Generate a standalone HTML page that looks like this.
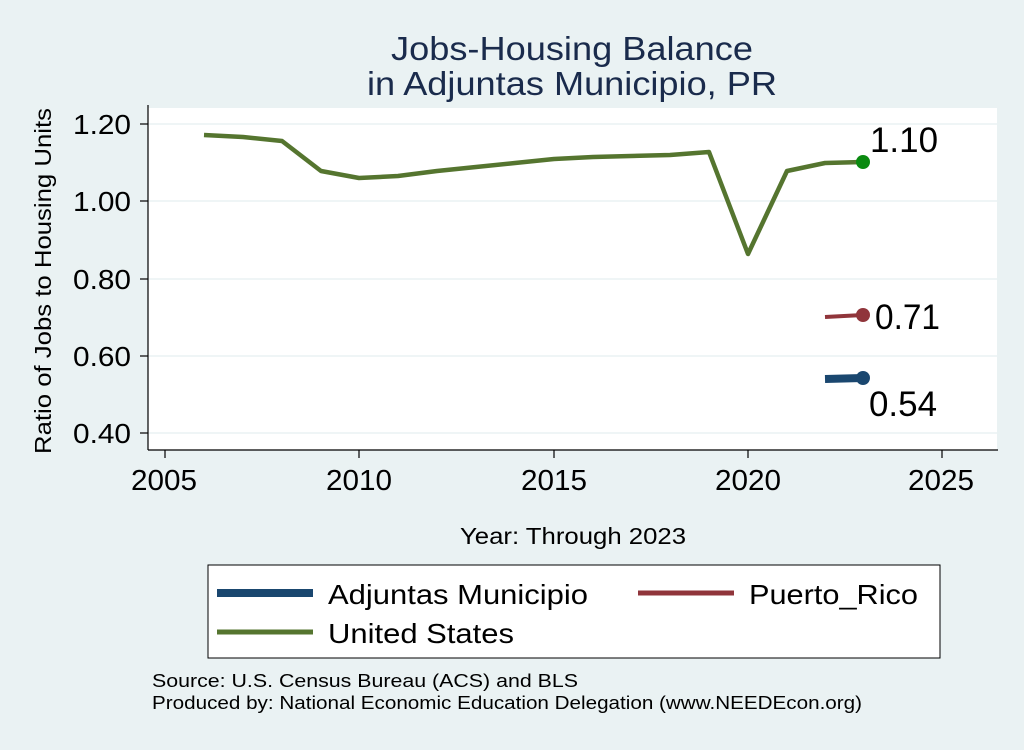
<!DOCTYPE html>
<html><head><meta charset="utf-8"><style>
html,body{margin:0;padding:0;background:#eaf2f3;}
</style></head><body>
<svg width="1024" height="745" viewBox="0 0 1024 745" xmlns="http://www.w3.org/2000/svg" font-family="Liberation Sans, Arial, sans-serif">
<rect width="1024" height="745" fill="#eaf2f3"/>
<text x="572" y="60" font-size="33" fill="#1a2b4c" text-anchor="middle" textLength="362" lengthAdjust="spacingAndGlyphs">Jobs-Housing Balance</text>
<text x="572" y="95" font-size="33" fill="#1a2b4c" text-anchor="middle" textLength="410" lengthAdjust="spacingAndGlyphs">in Adjuntas Municipio, PR</text>
<rect x="148" y="108" width="849" height="342" fill="#fff"/>
<g stroke="#eaf2f3" stroke-width="1.5">
<line x1="148" x2="997" y1="124" y2="124"/>
<line x1="148" x2="997" y1="201" y2="201"/>
<line x1="148" x2="997" y1="279" y2="279"/>
<line x1="148" x2="997" y1="356" y2="356"/>
<line x1="148" x2="997" y1="433" y2="433"/>
</g>
<g stroke="#000" stroke-width="1.2">
<line x1="148" x2="148" y1="105" y2="450"/>
<line x1="148" x2="998" y1="450" y2="450"/>
<line x1="140" x2="148" y1="124" y2="124"/><line x1="140" x2="148" y1="201" y2="201"/><line x1="140" x2="148" y1="279" y2="279"/><line x1="140" x2="148" y1="356" y2="356"/><line x1="140" x2="148" y1="433" y2="433"/>
<line x1="165" x2="165" y1="450" y2="458"/><line x1="359" x2="359" y1="450" y2="458"/><line x1="554" x2="554" y1="450" y2="458"/><line x1="748" x2="748" y1="450" y2="458"/><line x1="942" x2="942" y1="450" y2="458"/>
</g>
<g font-size="28" fill="#000" text-anchor="end">
<text x="131" y="134" textLength="58" lengthAdjust="spacingAndGlyphs">1.20</text>
<text x="131" y="211" textLength="58" lengthAdjust="spacingAndGlyphs">1.00</text>
<text x="131" y="289" textLength="58" lengthAdjust="spacingAndGlyphs">0.80</text>
<text x="131" y="366" textLength="58" lengthAdjust="spacingAndGlyphs">0.60</text>
<text x="131" y="443" textLength="58" lengthAdjust="spacingAndGlyphs">0.40</text>
</g>
<g font-size="29" fill="#000" text-anchor="middle">
<text x="164" y="490" textLength="66" lengthAdjust="spacingAndGlyphs">2005</text>
<text x="359" y="490" textLength="66" lengthAdjust="spacingAndGlyphs">2010</text>
<text x="554" y="490" textLength="66" lengthAdjust="spacingAndGlyphs">2015</text>
<text x="748" y="490" textLength="66" lengthAdjust="spacingAndGlyphs">2020</text>
<text x="941" y="490" textLength="66" lengthAdjust="spacingAndGlyphs">2025</text>
</g>
<text x="573" y="544" font-size="23" text-anchor="middle" textLength="226" lengthAdjust="spacingAndGlyphs">Year: Through 2023</text>
<text transform="translate(51,281) rotate(-90)" font-size="23" text-anchor="middle" textLength="346" lengthAdjust="spacingAndGlyphs">Ratio of Jobs to Housing Units</text>
<polyline fill="none" stroke="#55752f" stroke-width="4.5" stroke-linejoin="round" points="204,135 243,137 282,141 321,171 359,178 398,176 437,171 476,167 515,163 554,159 593,157 631,156 670,155 709,152 748,254 787,171 825,163 863,162"/>
<circle cx="863" cy="162" r="7" fill="#0a8a10"/>
<line x1="825" x2="863" y1="317" y2="315" stroke="#90353b" stroke-width="4"/>
<circle cx="863" cy="315" r="7" fill="#90353b"/>
<line x1="825" x2="863" y1="379" y2="378" stroke="#1a476f" stroke-width="8"/>
<circle cx="863" cy="378" r="7" fill="#1a476f"/>
<g font-size="35" fill="#000">
<text x="870" y="152" textLength="68" lengthAdjust="spacingAndGlyphs">1.10</text>
<text x="875" y="329" textLength="65" lengthAdjust="spacingAndGlyphs">0.71</text>
<text x="869" y="416" textLength="68" lengthAdjust="spacingAndGlyphs">0.54</text>
</g>
<rect x="208" y="565" width="732" height="93" fill="#fff" stroke="#000" stroke-width="1"/>
<line x1="217" x2="313" y1="593" y2="593" stroke="#1a476f" stroke-width="8"/>
<text x="328" y="604" font-size="28" textLength="260" lengthAdjust="spacingAndGlyphs">Adjuntas Municipio</text>
<line x1="638" x2="734" y1="593" y2="593" stroke="#90353b" stroke-width="5"/>
<text x="749" y="604" font-size="28" textLength="169" lengthAdjust="spacingAndGlyphs">Puerto_Rico</text>
<line x1="217" x2="313" y1="632" y2="632" stroke="#55752f" stroke-width="5"/>
<text x="328" y="643" font-size="28" textLength="186" lengthAdjust="spacingAndGlyphs">United States</text>
<text x="152" y="687" font-size="18" textLength="426" lengthAdjust="spacingAndGlyphs">Source: U.S. Census Bureau (ACS) and BLS</text>
<text x="152" y="709" font-size="18" textLength="710" lengthAdjust="spacingAndGlyphs">Produced by: National Economic Education Delegation (www.NEEDEcon.org)</text>
</svg>
</body></html>
